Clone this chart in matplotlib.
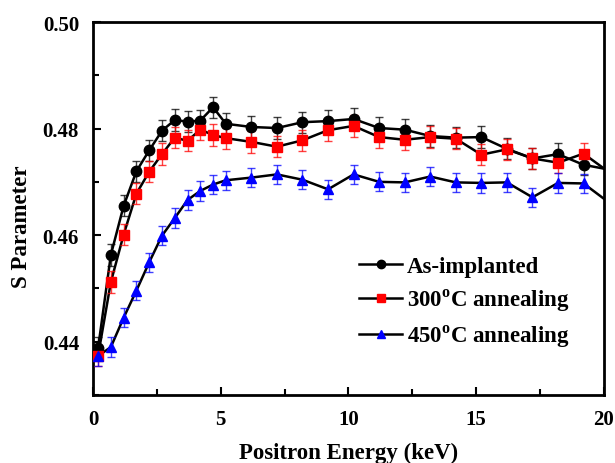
import matplotlib
matplotlib.use("Agg")
import matplotlib.pyplot as plt
from matplotlib.lines import Line2D
from matplotlib.ticker import MultipleLocator

plt.rcParams['font.family'] = ['Liberation Serif', 'DejaVu Serif']
plt.rcParams['font.weight'] = 'bold'

# %% data
energy = [0.2, 0.7, 1.2, 1.7, 2.2, 2.7, 3.2, 3.7, 4.2, 4.7, 5.2, 6.2, 7.2, 8.2,
          9.2, 10.2, 11.2, 12.2, 13.2, 14.2, 15.2, 16.2, 17.2, 18.2, 19.2, 20.2]

s_asimpl = [0.4388, 0.4563, 0.4655, 0.4720, 0.4759, 0.4796, 0.4816, 0.4813, 0.4815,
            0.4840, 0.4809, 0.4803, 0.4801, 0.4812, 0.4814, 0.4818, 0.4801, 0.4798,
            0.4786, 0.4783, 0.4784, 0.4762, 0.4744, 0.4752, 0.4732, 0.4723]
s_300 = [0.4374, 0.4512, 0.4601, 0.4678, 0.4719, 0.4752, 0.4783, 0.4777, 0.4798,
         0.4788, 0.4782, 0.4775, 0.4766, 0.4778, 0.4797, 0.4805, 0.4784, 0.4779,
         0.4784, 0.4781, 0.4751, 0.4761, 0.4744, 0.4736, 0.4753, 0.4718]
s_450 = [0.4373, 0.4390, 0.4445, 0.4496, 0.4549, 0.4599, 0.4632, 0.4666, 0.4683,
         0.4695, 0.4703, 0.4708, 0.4714, 0.4704, 0.4686, 0.4714, 0.4700, 0.4699,
         0.4710, 0.4699, 0.4698, 0.4699, 0.4671, 0.4698, 0.4697, 0.4661]

err_asimpl = [0.0020] * len(energy)
err_300 = [0.0020] * len(energy)
err_450 = [0.0018] * len(energy)

labels = ['As-implanted', '300$^{\\mathregular{o}}$C annealing', '450$^{\\mathregular{o}}$C annealing']
colors = ['black', 'red', 'blue']
markers = ['o', 's', '^']

# %% plot
fig = plt.figure(figsize=(6.15, 4.64), dpi=100)
ax = fig.add_axes([0.1512, 0.1466, 0.8309, 0.8038])

series = [(s_asimpl, err_asimpl), (s_300, err_300), (s_450, err_450)]
for (s, e), c, m in zip(series, colors, markers):
    ax.plot(energy, s, '-', color='k', lw=1.8, zorder=2)
    # last point lies past the axis end, only its line segment shows
    ax.errorbar(energy[:-1], s[:-1], yerr=e[:-1], fmt='none', ecolor=c,
                elinewidth=1, capsize=3, capthick=1, zorder=3, alpha=0.75)
    ax.plot(energy[:-1], s[:-1], ls='none', marker=m, color=c, ms=7.5, zorder=4)

ax.set_xlim(0, 20)
ax.set_ylim(0.43, 0.50)
ax.xaxis.set_major_locator(MultipleLocator(5))
ax.xaxis.set_minor_locator(MultipleLocator(2.5))
ax.yaxis.set_major_locator(MultipleLocator(0.02))
ax.yaxis.set_minor_locator(MultipleLocator(0.01))
ax.tick_params(which='both', direction='in', width=1.5, labelsize=15)
ax.tick_params(which='major', length=6)
ax.tick_params(which='minor', length=4)
ax.tick_params(axis='y', pad=10)
ax.tick_params(axis='x', pad=10)
for sp in ax.spines.values():
    sp.set_linewidth(2)

ax.set_xlabel('Positron Energy (keV)', fontsize=16.5, fontweight='bold')
ax.set_ylabel('S Parameter', fontsize=16.5, fontweight='bold')
ax.xaxis.set_label_coords(0.5, -0.126)
ax.yaxis.set_label_coords(-0.12, 0.455)

handles = [Line2D([], [], color='k', lw=1.8, marker=m, mfc=c, mec=c, ms=6)
           for c, m in zip(colors, markers)]
ax.legend(handles, labels, loc='upper left', bbox_to_anchor=(0.48, 0.428),
          frameon=False, fontsize=16.5, handlelength=1.9, handletextpad=0.2,
          labelspacing=0.42)

fig.savefig('out.png', dpi=100)
